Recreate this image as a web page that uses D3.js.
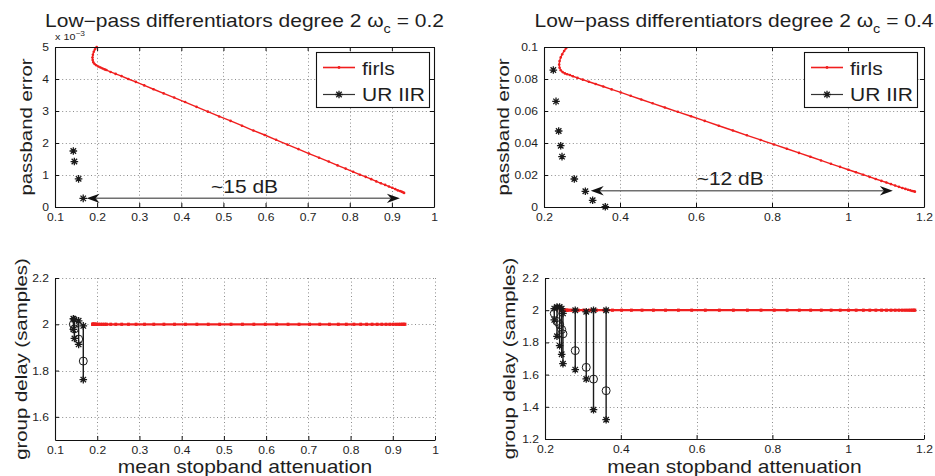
<!DOCTYPE html>
<html>
<head>
<meta charset="utf-8">
<script src="https://cdn.jsdelivr.net/npm/d3@7"></script>
<style>
body { margin: 0; background: #fff; }
svg { display: block; }
text { font-family: "Liberation Sans", Arial, sans-serif; fill: #1e1e1e; }
</style>
</head>
<body>
<svg width="935" height="476"></svg>
<script>
// ---- omega_c = 0.2 : firls sweep (attenuation, passband error x 1e-3) ----
var firlsAtt02 = [0.199, 0.195, 0.192, 0.190, 0.189, 0.1895, 0.191, 0.194, 0.198, 0.203, 0.208, 0.213, 0.218,
    0.222, 0.232, 0.244, 0.258, 0.274, 0.292, 0.312, 0.334, 0.358, 0.383, 0.409, 0.436, 0.463, 0.490,
    0.517, 0.544, 0.571, 0.598, 0.625, 0.652, 0.678, 0.703, 0.727, 0.750, 0.771, 0.790, 0.808, 0.824,
    0.838, 0.851, 0.863, 0.874, 0.884, 0.893, 0.901, 0.908, 0.914, 0.919, 0.923, 0.926, 0.929];
var firlsErr02 = [5.00, 4.93, 4.85, 4.76, 4.67, 4.59, 4.52, 4.47, 4.43, 4.39, 4.36, 4.33, 4.30,
    4.28, 4.22, 4.16, 4.09, 4.00, 3.91, 3.80, 3.68, 3.55, 3.42, 3.28, 3.13, 2.98, 2.83,
    2.69, 2.54, 2.39, 2.25, 2.10, 1.95, 1.81, 1.67, 1.54, 1.42, 1.30, 1.20, 1.10, 1.01,
    0.94, 0.87, 0.80, 0.74, 0.69, 0.64, 0.60, 0.56, 0.52, 0.50, 0.48, 0.46, 0.44];

// ---- omega_c = 0.2 : UR IIR designs ----
var urAtt02 = [0.1435, 0.146, 0.156, 0.167];
var urErr02 = [1.75, 1.42, 0.88, 0.27];
var urMax02 = [2.024, 2.020, 2.015, 1.993];
var urMean02 = [2.000, 1.980, 1.936, 1.841];
var urMin02 = [1.978, 1.939, 1.913, 1.761];

// ---- omega_c = 0.4 : firls sweep ----
var firlsAtt04 = [0.258, 0.253, 0.248, 0.244, 0.241, 0.240, 0.241, 0.244, 0.249, 0.255, 0.261, 0.268,
    0.276, 0.288, 0.302, 0.318, 0.336, 0.356, 0.378, 0.402, 0.428, 0.456, 0.486, 0.518, 0.552,
    0.587, 0.623, 0.660, 0.697, 0.734, 0.770, 0.805, 0.839, 0.871, 0.901, 0.929, 0.955, 0.979,
    1.001, 1.021, 1.040, 1.057, 1.073, 1.088, 1.101, 1.113, 1.124, 1.134, 1.143, 1.151, 1.158,
    1.164, 1.169, 1.173, 1.176];
var firlsErr04 = [0.0992, 0.0975, 0.0955, 0.0935, 0.0912, 0.0890, 0.0870, 0.0855, 0.0843, 0.0835, 0.0830, 0.0825,
    0.0817, 0.0807, 0.0796, 0.0783, 0.0769, 0.0753, 0.0735, 0.0716, 0.0695, 0.0672, 0.0648, 0.0622, 0.0595,
    0.0567, 0.0538, 0.0508, 0.0478, 0.0448, 0.0419, 0.0391, 0.0364, 0.0338, 0.0314, 0.0291, 0.0270, 0.0251,
    0.0233, 0.0217, 0.0202, 0.0188, 0.0175, 0.0163, 0.0153, 0.0143, 0.0134, 0.0126, 0.0119, 0.0113, 0.0108,
    0.0104, 0.0100, 0.0098, 0.0096];

// ---- omega_c = 0.4 : UR IIR designs ----
var urAtt04 = [0.2245, 0.2316, 0.2386, 0.244, 0.2474, 0.2798, 0.3088, 0.328, 0.3613];
var urErr04 = [0.0856, 0.066, 0.0475, 0.0383, 0.0315, 0.0175, 0.0098, 0.0042, 0.0002];
var urMax04 = [2.010, 2.020, 2.020, 2.010, 1.980, 2.000, 1.990, 2.000, 2.000];
var urMean04 = [1.980, 1.930, 1.910, 1.880, 1.853, 1.749, 1.645, 1.572, 1.500];
var urMin04 = [1.940, 1.838, 1.780, 1.726, 1.668, 1.631, 1.573, 1.382, 1.320];

// firls group delay is flat
var firlsDelay = 2;

// tick values
var xTicks02 = [0.1, 0.2, 0.3, 0.4, 0.5, 0.6, 0.7, 0.8, 0.9, 1];
var xTicks04 = [0.2, 0.4, 0.6, 0.8, 1, 1.2];
var errTicks02 = [0, 1, 2, 3, 4, 5];
var errTicks04 = [0, 0.02, 0.04, 0.06, 0.08, 0.1];
var delayTicks02 = [1.6, 1.8, 2, 2.2];
var delayTicks04 = [1.2, 1.4, 1.6, 1.8, 2, 2.2];

var RED = "#f01e1e";
var BIG = 17.5, BIGX = 1.2;
var svg = d3.select('svg');

function fmt(d) {
    return String(+d.toFixed(3));
}

function addText(parent, str, x, y, size, sx, anchor, rot) {
    return parent.append('text')
        .attr('transform', 'translate(' + x + ',' + y + ')' + (rot ? ' rotate(' + rot + ')' : '') + ' scale(' + sx + ',1)')
        .attr('text-anchor', anchor)
        .style('font-size', size + 'px')
        .text(str);
}

function starPath(s) {
    var d = s * 0.72;
    return 'M' + (-s) + ',0L' + s + ',0M0,' + (-s) + 'L0,' + s +
        'M' + (-d) + ',' + (-d) + 'L' + d + ',' + d + 'M' + (-d) + ',' + d + 'L' + d + ',' + (-d);
}

function makePanel(o) {
    var g = svg.append('g');
    var x = d3.scaleLinear().domain(o.xDomain).range([o.left, o.right]);
    var y = d3.scaleLinear().domain(o.yDomain).range([o.bottom, o.top]);

    // dotted grid
    var grid = g.append('g')
        .attr('stroke', '#8c8c8c')
        .attr('stroke-width', 1)
        .attr('stroke-dasharray', '1,2.6');
    grid.selectAll('.gx').data(o.xTicks).enter().append('line')
        .attr('x1', function(d) { return Math.round(x(d)) + 0.5; })
        .attr('x2', function(d) { return Math.round(x(d)) + 0.5; })
        .attr('y1', o.top).attr('y2', o.bottom);
    grid.selectAll('.gy').data(o.yTicks).enter().append('line')
        .attr('y1', function(d) { return Math.round(y(d)) + 0.5; })
        .attr('y2', function(d) { return Math.round(y(d)) + 0.5; })
        .attr('x1', o.left).attr('x2', o.right);

    g.x = x;
    g.y = y;
    g.o = o;
    return g;
}

function drawAxes(g) {
    var o = g.o, x = g.x, y = g.y;
    var ax = g.append('g');
    ax.append('g')
        .attr('transform', 'translate(0,' + o.bottom + ')')
        .call(d3.axisBottom(x).tickValues(o.xTicks).tickSizeInner(-4).tickSizeOuter(0).tickPadding(6).tickFormat(fmt));
    ax.append('g')
        .attr('transform', 'translate(' + o.left + ',0)')
        .call(d3.axisLeft(y).tickValues(o.yTicks).tickSizeInner(-4).tickSizeOuter(0).tickPadding(5.5).tickFormat(fmt));
    if (o.boxed) {
        ax.append('g')
            .attr('transform', 'translate(0,' + o.top + ')')
            .call(d3.axisTop(x).tickValues(o.xTicks).tickSizeInner(-4).tickSizeOuter(0).tickFormat(''));
        ax.append('g')
            .attr('transform', 'translate(' + o.right + ',0)')
            .call(d3.axisRight(y).tickValues(o.yTicks).tickSizeInner(-4).tickSizeOuter(0).tickFormat(''));
    }
    ax.selectAll('.domain').attr('stroke', '#111').attr('stroke-width', 1.1);
    ax.selectAll('.tick line').attr('stroke', '#111');
    ax.selectAll('.tick text')
        .style('font-size', '11px')
        .attr('transform', 'scale(1.1,1)');
}

function drawFirlsTop(g, att, err) {
    var x = g.x, y = g.y;
    var pts = att.map(function(d, i) { return [x(d), y(err[i])]; });
    g.append('path')
        .attr('d', d3.line()(pts))
        .attr('fill', 'none')
        .attr('stroke', RED)
        .attr('stroke-width', 1.4);
    g.append('g').selectAll('circle').data(pts).enter().append('circle')
        .attr('cx', function(d) { return d[0]; })
        .attr('cy', function(d) { return d[1]; })
        .attr('r', 1.3)
        .attr('fill', RED);
}

function drawFirlsBottom(g, att) {
    var x = g.x, y = g.y;
    var pts = att.map(function(d) { return [x(d), y(firlsDelay)]; });
    g.append('line')
        .attr('x1', d3.min(pts, function(d) { return d[0]; }))
        .attr('x2', d3.max(pts, function(d) { return d[0]; }))
        .attr('y1', y(firlsDelay)).attr('y2', y(firlsDelay))
        .attr('stroke', RED)
        .attr('stroke-width', 2.2);
    g.append('g').selectAll('rect').data(pts).enter().append('rect')
        .attr('x', function(d) { return d[0] - 1.4; })
        .attr('y', function(d) { return d[1] - 1.6; })
        .attr('width', 2.8).attr('height', 3.2)
        .attr('fill', RED);
}

function drawStars(g, xs, ys) {
    g.append('g').selectAll('path').data(xs).enter().append('path')
        .attr('transform', function(d, i) { return 'translate(' + g.x(d) + ',' + g.y(ys[i]) + ')'; })
        .attr('d', starPath(3.8))
        .attr('fill', 'none')
        .attr('stroke', '#1a1a1a')
        .attr('stroke-width', 1.3);
}

function drawStems(g, xs, lo, mid, hi) {
    var x = g.x, y = g.y;
    g.append('g').selectAll('line').data(xs).enter().append('line')
        .attr('x1', function(d) { return x(d); })
        .attr('x2', function(d) { return x(d); })
        .attr('y1', function(d, i) { return y(lo[i]); })
        .attr('y2', function(d, i) { return y(hi[i]); })
        .attr('stroke', '#1a1a1a')
        .attr('stroke-width', 1.4);
    drawStars(g, xs, lo);
    drawStars(g, xs, hi);
    g.append('g').selectAll('circle').data(xs).enter().append('circle')
        .attr('cx', function(d) { return x(d); })
        .attr('cy', function(d, i) { return y(mid[i]); })
        .attr('r', 4)
        .attr('fill', 'none')
        .attr('stroke', '#1a1a1a')
        .attr('stroke-width', 1);
}

function drawArrow(g, a) {
    var x1 = g.x(a.x1), x2 = g.x(a.x2), yy = g.y(a.y);
    g.append('line')
        .attr('x1', x1 + 9).attr('x2', x2 - 9)
        .attr('y1', yy).attr('y2', yy)
        .attr('stroke', '#707070')
        .attr('stroke-width', 1.5);
    g.append('path')
        .attr('d', 'M' + x2 + ',' + yy + 'L' + (x2 - 13) + ',' + (yy - 4.7) + 'L' + (x2 - 9) + ',' + yy +
            'L' + (x2 - 13) + ',' + (yy + 4.7) + 'Z')
        .attr('fill', '#111');
    g.append('path')
        .attr('d', 'M' + x1 + ',' + yy + 'L' + (x1 + 13) + ',' + (yy - 4.7) + 'L' + (x1 + 9) + ',' + yy +
            'L' + (x1 + 13) + ',' + (yy + 4.7) + 'Z')
        .attr('fill', '#111');
    addText(g, a.label, g.x(a.lx), g.y(a.ly), BIG, BIGX, 'middle');
}

function drawLegend(g, bx, by) {
    var lg = g.append('g').attr('transform', 'translate(' + bx + ',' + by + ')');
    lg.append('rect')
        .attr('x', 0.5).attr('y', 0.5)
        .attr('width', 113).attr('height', 55)
        .attr('fill', '#fff')
        .attr('stroke', '#111')
        .attr('stroke-width', 1.1);
    lg.append('line').attr('x1', 7).attr('x2', 39).attr('y1', 15.5).attr('y2', 15.5)
        .attr('stroke', RED).attr('stroke-width', 1.6);
    lg.append('circle').attr('cx', 23).attr('cy', 15.5).attr('r', 1.4).attr('fill', RED);
    lg.append('line').attr('x1', 7).attr('x2', 39).attr('y1', 42.5).attr('y2', 42.5)
        .attr('stroke', '#333').attr('stroke-width', 1.2);
    lg.append('path').attr('transform', 'translate(23,42.5)').attr('d', starPath(3.8))
        .attr('fill', 'none').attr('stroke', '#1a1a1a').attr('stroke-width', 1.3);
    addText(lg, 'firls', 46, 23, BIG, BIGX, 'start');
    addText(lg, 'UR IIR', 46, 48.5, BIG, BIGX, 'start');
}

function addTitle(cx, wc) {
    var t = addText(svg, 'Low\u2212pass differentiators degree 2 \u03c9', cx, 26.5, BIG, BIGX, 'middle');
    t.append('tspan').attr('dy', 6).style('font-size', '12px').text('c');
    t.append('tspan').attr('dy', -6).text(' = ' + wc);
}

// ---------------- top left ----------------
var tl = makePanel({left: 55, right: 434, top: 47, bottom: 207, xDomain: [0.1, 1], yDomain: [0, 5],
    xTicks: xTicks02, yTicks: errTicks02, boxed: true});
drawFirlsTop(tl, firlsAtt02, firlsErr02);
drawStars(tl, urAtt02, urErr02);
drawArrow(tl, {x1: 0.175, x2: 0.919, y: 0.27, label: '~15 dB', lx: 0.55, ly: 0.44});
drawAxes(tl);
drawLegend(tl, 316, 52);
var ex = addText(svg, 'x 10', 55, 40, 9, 1.2, 'start');
ex.append('tspan').attr('dy', -4).style('font-size', '7px').text('\u22123');
addTitle(244.5, '0.2');
addText(svg, 'passband error', 32, 127, 17, BIGX, 'middle', -90);

// ---------------- top right ----------------
var tr = makePanel({left: 544, right: 924, top: 47, bottom: 207, xDomain: [0.2, 1.2], yDomain: [0, 0.1],
    xTicks: xTicks04, yTicks: errTicks04, boxed: true});
drawFirlsTop(tr, firlsAtt04, firlsErr04);
drawStars(tr, urAtt04, urErr04);
drawArrow(tr, {x1: 0.323, x2: 1.118, y: 0.0102, label: '~12 dB', lx: 0.69, ly: 0.0137});
drawAxes(tr);
drawLegend(tr, 804, 52);
addTitle(734, '0.4');
addText(svg, 'passband error', 509, 127, 17, BIGX, 'middle', -90);

// ---------------- bottom left ----------------
var bl = makePanel({left: 55, right: 435, top: 278, bottom: 440, xDomain: [0.1, 1], yDomain: [1.5, 2.2],
    xTicks: xTicks02, yTicks: delayTicks02, boxed: false});
drawFirlsBottom(bl, firlsAtt02);
drawStems(bl, urAtt02, urMin02, urMean02, urMax02);
drawAxes(bl);
addText(svg, 'group delay (samples)', 27, 359, 17, BIGX, 'middle', -90);
addText(svg, 'mean stopband attenuation', 245, 473, BIG, BIGX, 'middle');

// ---------------- bottom right ----------------
var br = makePanel({left: 545, right: 924, top: 278, bottom: 439, xDomain: [0.2, 1.2], yDomain: [1.2, 2.2],
    xTicks: xTicks04, yTicks: delayTicks04, boxed: false});
drawFirlsBottom(br, firlsAtt04);
drawStems(br, urAtt04, urMin04, urMean04, urMax04);
drawAxes(br);
addText(svg, 'group delay (samples)', 515, 358.5, 17, BIGX, 'middle', -90);
addText(svg, 'mean stopband attenuation', 734.5, 473, BIG, BIGX, 'middle');
</script>
</body>
</html>
